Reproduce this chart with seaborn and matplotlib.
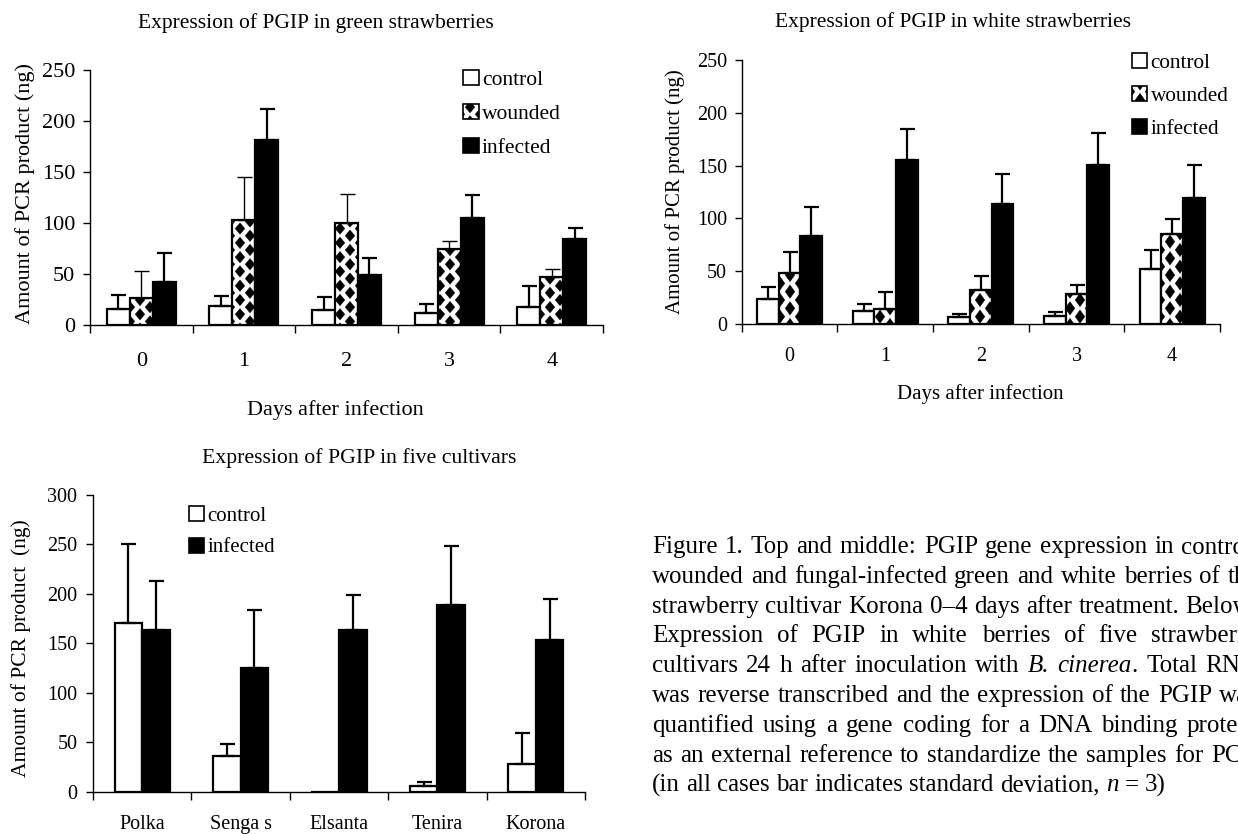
import numpy as np
import pandas as pd
import matplotlib
matplotlib.use("Agg")
import matplotlib.pyplot as plt
import matplotlib.hatch as mhatch
from matplotlib.path import Path
from matplotlib.patches import Patch
from matplotlib.container import BarContainer
import seaborn as sns

# ---------------- data ----------------
days = ["0", "1", "2", "3", "4"]
treatments = ["control", "wounded", "infected"]

green_control = [16.3, 18.6, 15.4, 12.0, 18.0]
green_control_sd = [13.1, 10.4, 12.4, 9.2, 20.9]
green_wounded = [26.8, 103.0, 100.3, 75.2, 47.4]
green_wounded_sd = [26.2, 42.7, 28.1, 7.2, 8.2]
green_infected = [42.5, 181.7, 49.7, 104.6, 84.6]
green_infected_sd = [28.7, 30.3, 16.3, 22.9, 10.2]

white_control = [23.6, 12.6, 6.3, 7.2, 52.2]
white_control_sd = [11.6, 6.3, 2.8, 4.1, 17.6]
white_wounded = [48.4, 14.5, 32.0, 28.6, 84.9]
white_wounded_sd = [19.5, 15.4, 13.0, 7.9, 14.8]
white_infected = [83.6, 155.0, 113.5, 150.3, 119.2]
white_infected_sd = [26.8, 29.9, 29.0, 30.5, 31.8]

cultivars = ["Polka", "Senga s", "Elsanta", "Tenira", "Korona"]
cult_treatments = ["control", "infected"]
cult_control = [170.9, 36.4, 0.0, 6.1, 28.0]
cult_control_sd = [79.5, 11.5, 0.0, 4.0, 31.3]
cult_infected = [163.5, 125.4, 163.5, 188.7, 153.4]
cult_infected_sd = [49.5, 58.0, 35.4, 59.3, 41.4]

title_green = "Expression of PGIP in green strawberries"
title_white = "Expression of PGIP in white strawberries"
title_cult = "Expression of PGIP in five cultivars"
xlabel_days = "Days after infection"
ylabel_main = "Amount of PCR product (ng)"
ylabel_cult = "Amount of PCR product  (ng)"

caption_lines = [
    "Figure 1. Top and middle: PGIP gene expression in control,",
    "wounded and fungal-infected green and white berries of the",
    "strawberry cultivar Korona 0\u20134 days after treatment. Below:",
    "Expression of PGIP in white berries of five strawberry",
    "cultivars 24 h after inoculation with _B._ _cinerea_. Total RNA",
    "was reverse transcribed and the expression of the PGIP was",
    "quantified using a gene coding for a DNA binding protein",
    "as an external reference to standardize the samples for PCR",
    "(in all cases bar indicates standard deviation, _n_ = 3)",
]


# ------------- custom diamond hatch (checkerboard of black diamonds) -------------
class DiamondHatch(mhatch.HatchPatternBase):
    def __init__(self, hatch, density):
        self.nrows = hatch.count("*")
        self.ncols = 5
        if self.nrows == 0:
            self.num_vertices = 0
            return
        pts = []
        for r in range(2 * self.nrows + 1):
            y = r / (2 * self.nrows)
            if r % 2 == 0:
                xs = np.arange(self.ncols + 1) / self.ncols
            else:
                xs = (np.arange(self.ncols) + 0.5) / self.ncols
            for x in xs:
                pts.append((x, y))
        self.centers = np.array(pts)
        self.num_vertices = len(pts) * 5

    def set_vertices_and_codes(self, vertices, codes):
        hw = 0.24 / self.ncols
        hh = 0.40 / self.nrows
        shape = np.array([[0, hh], [-hw, 0], [0, -hh], [hw, 0], [0, hh]])
        c = np.array([Path.MOVETO, Path.LINETO, Path.LINETO, Path.LINETO,
                      Path.CLOSEPOLY], dtype=Path.code_type)
        vertices[:] = (self.centers[:, None, :] + shape[None, :, :]).reshape(-1, 2)
        codes[:] = np.tile(c, len(self.centers))


mhatch._hatch_types = [t for t in mhatch._hatch_types if t is not mhatch.Stars] + [DiamondHatch]

# ---------------- style ----------------
sns.set_theme(style="ticks")
plt.rcParams["font.family"] = ["Liberation Serif", "DejaVu Serif"]
plt.rcParams.update({
    "text.color": "black", "axes.labelcolor": "black", "axes.edgecolor": "black",
    "xtick.color": "black", "ytick.color": "black", "hatch.linewidth": 0.3,
    "axes.linewidth": 1.0,
})

W, H = 1238, 834
fig = plt.figure(figsize=(W / 100, H / 100), dpi=100)
fig.patch.set_facecolor("white")


def fx(x):
    return x / W


def fy(y):
    return 1 - y / H


def add_axes_px(x0, x1, ytop, ybot):
    return fig.add_axes([fx(x0), fy(ybot), (x1 - x0) / W, (ybot - ytop) / H])


def panel(ax, cats, names, values, sds, colors, hatches, width, ymax,
          tick_fs, xpad, ypad, err_lw):
    df = pd.DataFrame({
        "cat": np.tile(cats, len(names)),
        "treatment": np.repeat(names, len(cats)),
        "value": np.concatenate(values),
    })
    sns.barplot(data=df, x="cat", y="value", hue="treatment", order=cats,
                hue_order=names, palette=dict(zip(names, colors)), width=width,
                gap=0, saturation=1, edgecolor="black", linewidth=1.6,
                errorbar=None, legend=False, ax=ax)
    bar_conts = [c for c in ax.containers if isinstance(c, BarContainer)]
    for i, cont in enumerate(bar_conts):
        xs, ys, es = [], [], []
        for p, sd in zip(cont.patches, sds[i]):
            p.set_hatch(hatches[i])
            p.set_edgecolor("black")
            if sd > 0:
                xs.append(p.get_x() + p.get_width() / 2)
                ys.append(p.get_height())
                es.append(sd)
        es = np.array(es)
        ax.errorbar(xs, ys, yerr=[np.zeros_like(es), es], fmt="none",
                    ecolor="black", elinewidth=err_lw[i], capsize=5.4,
                    capthick=err_lw[i], zorder=3)
    ax.set_xlabel("")
    ax.set_ylabel("")
    ax.set_xlim(-0.5, len(cats) - 0.5)
    ax.set_ylim(0, ymax)
    ax.set_yticks(np.arange(0, ymax + 1, 50))
    ax.set_xticks(np.arange(-0.5, len(cats)), labels=[""] * (len(cats) + 1))
    ax.set_xticks(np.arange(len(cats)), labels=cats, minor=True)
    ax.tick_params(axis="x", which="major", length=5.5, width=1, direction="out")
    ax.tick_params(axis="x", which="minor", length=0, pad=xpad, labelsize=tick_fs)
    ax.tick_params(axis="y", length=5, width=1, direction="out", pad=ypad,
                   labelsize=tick_fs)
    for s in ["top", "right"]:
        ax.spines[s].set_visible(False)
    ax.set_facecolor("white")


def legend(ax, names, colors, hatches, x, y, fs, spacing):
    handles = [Patch(facecolor=c, edgecolor="black", hatch=h, linewidth=1.2, label=n)
               for n, c, h in zip(names, colors, hatches)]
    ax.legend(handles=handles, loc="upper left", bbox_to_anchor=(fx(x), fy(y)),
              bbox_transform=fig.transFigure, frameon=False, fontsize=fs,
              handlelength=0.72, handleheight=0.72, handletextpad=0.15,
              labelspacing=spacing, borderpad=0, borderaxespad=0)


colors3 = ["white", "white", "black"]
hatches3 = ["", "*******", ""]

# ---- green ----
ax1 = add_axes_px(90, 603, 70, 325.3)
panel(ax1, days, treatments, [green_control, green_wounded, green_infected],
      [green_control_sd, green_wounded_sd, green_infected_sd], colors3, hatches3,
      0.672, 250, 16, 19, 5.8, [1.6, 1.0, 1.6])
legend(ax1, treatments, colors3, hatches3, 463, 70, 15.5, 0.63)
fig.text(fx(316), fy(23), title_green, ha="center", va="center", fontsize=15.5)
fig.text(fx(335), fy(410), xlabel_days, ha="center", va="center", fontsize=16)
fig.text(fx(25), fy(193), ylabel_main, ha="center", va="center", rotation=90, fontsize=16)

# ---- white ----
hatches3w = ["", "******", ""]
ax2 = add_axes_px(741.7, 1220, 60, 324)
panel(ax2, days, treatments, [white_control, white_wounded, white_infected],
      [white_control_sd, white_wounded_sd, white_infected_sd], colors3, hatches3w,
      0.677, 250, 14.5, 16.5, 5.6, [1.6, 1.6, 1.6])
legend(ax2, treatments, colors3, hatches3w, 1132, 53, 15.3, 0.6)
fig.text(fx(953), fy(22), title_white, ha="center", va="center", fontsize=15.5)
fig.text(fx(980), fy(394), xlabel_days, ha="center", va="center", fontsize=15)
fig.text(fx(675), fy(192), ylabel_main, ha="center", va="center", rotation=90, fontsize=15)

# ---- cultivars ----
colors2 = ["white", "black"]
hatches2 = ["", ""]
ax3 = add_axes_px(93, 585, 495, 791.7)
panel(ax3, cultivars, cult_treatments, [cult_control, cult_infected],
      [cult_control_sd, cult_infected_sd], colors2, hatches2,
      0.56, 300, 14.5, 17, 6.3, [1.6, 1.6])
legend(ax3, cult_treatments, colors2, hatches2, 189, 506, 15, 0.58)
fig.text(fx(359), fy(458), title_cult, ha="center", va="center", fontsize=15.7)
fig.text(fx(21), fy(648), ylabel_cult, ha="center", va="center", rotation=90, fontsize=15.5)

# ---- caption (justified, clipped by the figure edge as in the reference) ----
renderer = fig.canvas.get_renderer()
cap_fs = 18
cap_x0, cap_right = 652, 1258
cap_base0, cap_dy = 553, 29.8
space_px = 0.25 * cap_fs * 100 / 72
for li, line in enumerate(caption_lines):
    words = []
    for w in line.split(" "):
        segs = [(s, i % 2 == 1) for i, s in enumerate(w.split("_")) if s]
        arts = [fig.text(0, 0, s, fontsize=cap_fs, va="baseline", ha="left",
                         style="italic" if it else "normal") for s, it in segs]
        widths = [a.get_window_extent(renderer).width for a in arts]
        words.append((arts, widths))
    total = sum(sum(ws) for _, ws in words)
    n = len(words)
    if li < len(caption_lines) - 1 and n > 1:
        gap = max((cap_right - cap_x0 - total) / (n - 1), 0.5 * space_px)
    else:
        gap = space_px
    x = cap_x0
    ybase = cap_base0 + li * cap_dy
    for arts, ws in words:
        for a, wdt in zip(arts, ws):
            a.set_position((fx(x), fy(ybase)))
            x += wdt
        x += gap

fig.savefig("out.png", dpi=100, facecolor="white")
